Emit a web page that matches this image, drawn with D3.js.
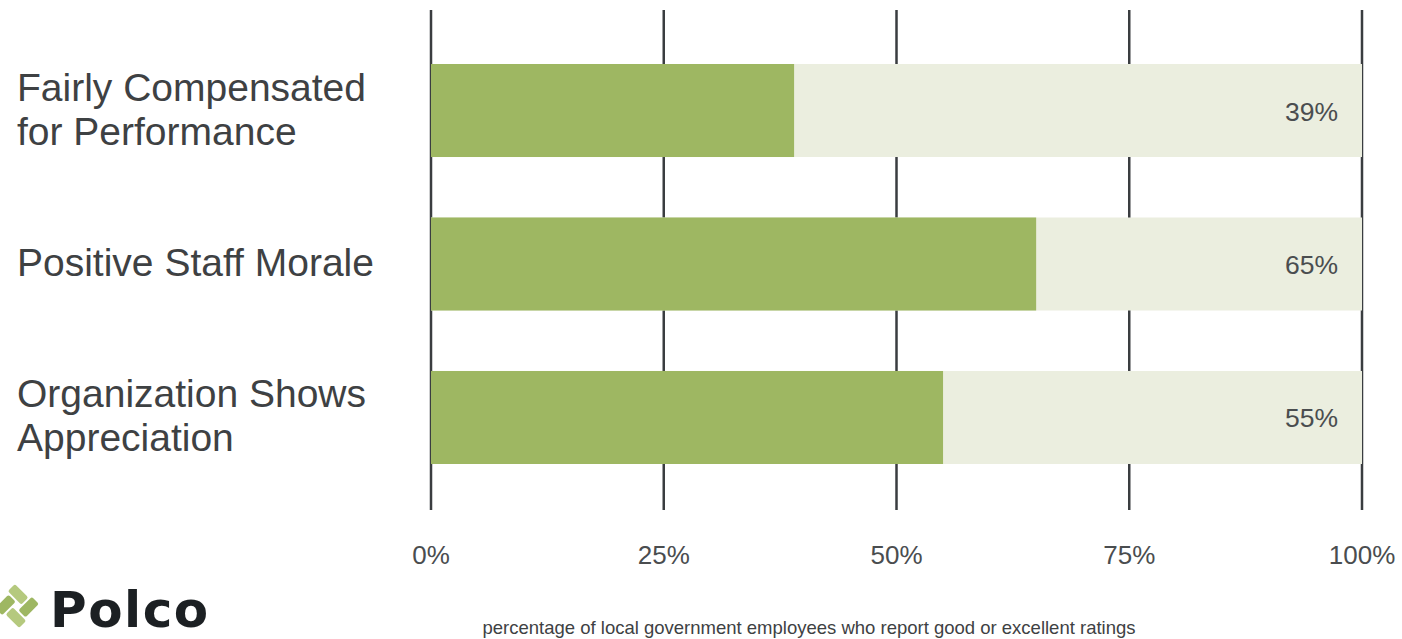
<!DOCTYPE html>
<html><head><meta charset="utf-8">
<script src="https://cdn.jsdelivr.net/npm/d3@7"></script>
<style>body{margin:0;background:#fff}svg{display:block}</style>
</head><body>
<svg id="c" width="1402" height="639"></svg>
<script>
const categories = [["Fairly Compensated","for Performance"],["Positive Staff Morale"],["Organization Shows","Appreciation"]];
const values = [39, 65, 55];
const ticks = [0, 25, 50, 75, 100];
const tickLabels = ["0%","25%","50%","75%","100%"];
const axisTitle = "percentage of local government employees who report good or excellent ratings";

const svg = d3.select("#c");
const x = d3.scaleLinear().domain([0,100]).range([431,1362]);
const y = d3.scaleBand().domain(d3.range(categories.length)).range([64,464]).paddingInner(0.394).paddingOuter(0);

const sans = "'Liberation Sans', Arial, sans-serif";

// gridlines
svg.append("g").selectAll("line").data(ticks).join("line")
  .attr("x1",d=>x(d)).attr("x2",d=>x(d)).attr("y1",10).attr("y2",510)
  .attr("stroke","#3a3d40").attr("stroke-width",2.5);

// background bars
svg.append("g").selectAll("rect").data(values).join("rect")
  .attr("x",x(0)).attr("y",(d,i)=>y(i)).attr("width",x(100)-x(0)).attr("height",y.bandwidth())
  .attr("fill","#ebeedf");
// value bars
svg.append("g").selectAll("rect").data(values).join("rect")
  .attr("x",x(0)).attr("y",(d,i)=>y(i)).attr("width",d=>x(d)-x(0)).attr("height",y.bandwidth())
  .attr("fill","#9eb762");

// value labels
svg.append("g").selectAll("text").data(values).join("text")
  .attr("x",1338).attr("y",(d,i)=>y(i)+y.bandwidth()/2+10)
  .attr("text-anchor","end").attr("font-family",sans).attr("font-size",26.5)
  .attr("fill","#4a4d4f").text(d=>d+"%");

// category labels
const cl = svg.append("g").selectAll("text").data(categories).join("text")
  .attr("font-family",sans).attr("font-size",39).attr("fill","#3e4143");
cl.each(function(lines,i){
  const t = d3.select(this);
  const cy = y(i)+y.bandwidth()/2;
  const lh = 44;
  lines.forEach((s,j)=>{
    t.append("tspan").attr("x",17).attr("y",cy + (j-(lines.length-1)/2)*lh + 12).text(s);
  });
});

// tick labels
svg.append("g").selectAll("text").data(ticks).join("text")
  .attr("x",d=>x(d)).attr("y",564).attr("text-anchor","middle")
  .attr("font-family",sans).attr("font-size",26).attr("fill","#4a4d4f")
  .text((d,i)=>tickLabels[i]);

// axis title
svg.append("text").attr("x",809).attr("y",634).attr("text-anchor","middle")
  .attr("font-family",sans).attr("font-size",18.5).attr("fill","#3e4143")
  .text(axisTitle);

// logo
const logo = svg.append("g").attr("transform","translate(17,606)");
const pieces = [[0,"#9eb762"],[90,"#b5c97e"],[180,"#9eb762"],[270,"#b5c97e"]];
pieces.forEach(([a,c])=>{
  logo.append("rect").attr("x",4).attr("y",-17).attr("width",10).attr("height",19).attr("rx",2)
    .attr("fill",c).attr("transform",`rotate(${a+45})`);
});
svg.append("text").attr("x",50).attr("y",627).attr("font-family","'DejaVu Sans', sans-serif")
  .attr("font-weight",700).attr("font-size",50).attr("letter-spacing",1.5).attr("fill","#1c2023").text("Polco");
</script>
</body></html>
